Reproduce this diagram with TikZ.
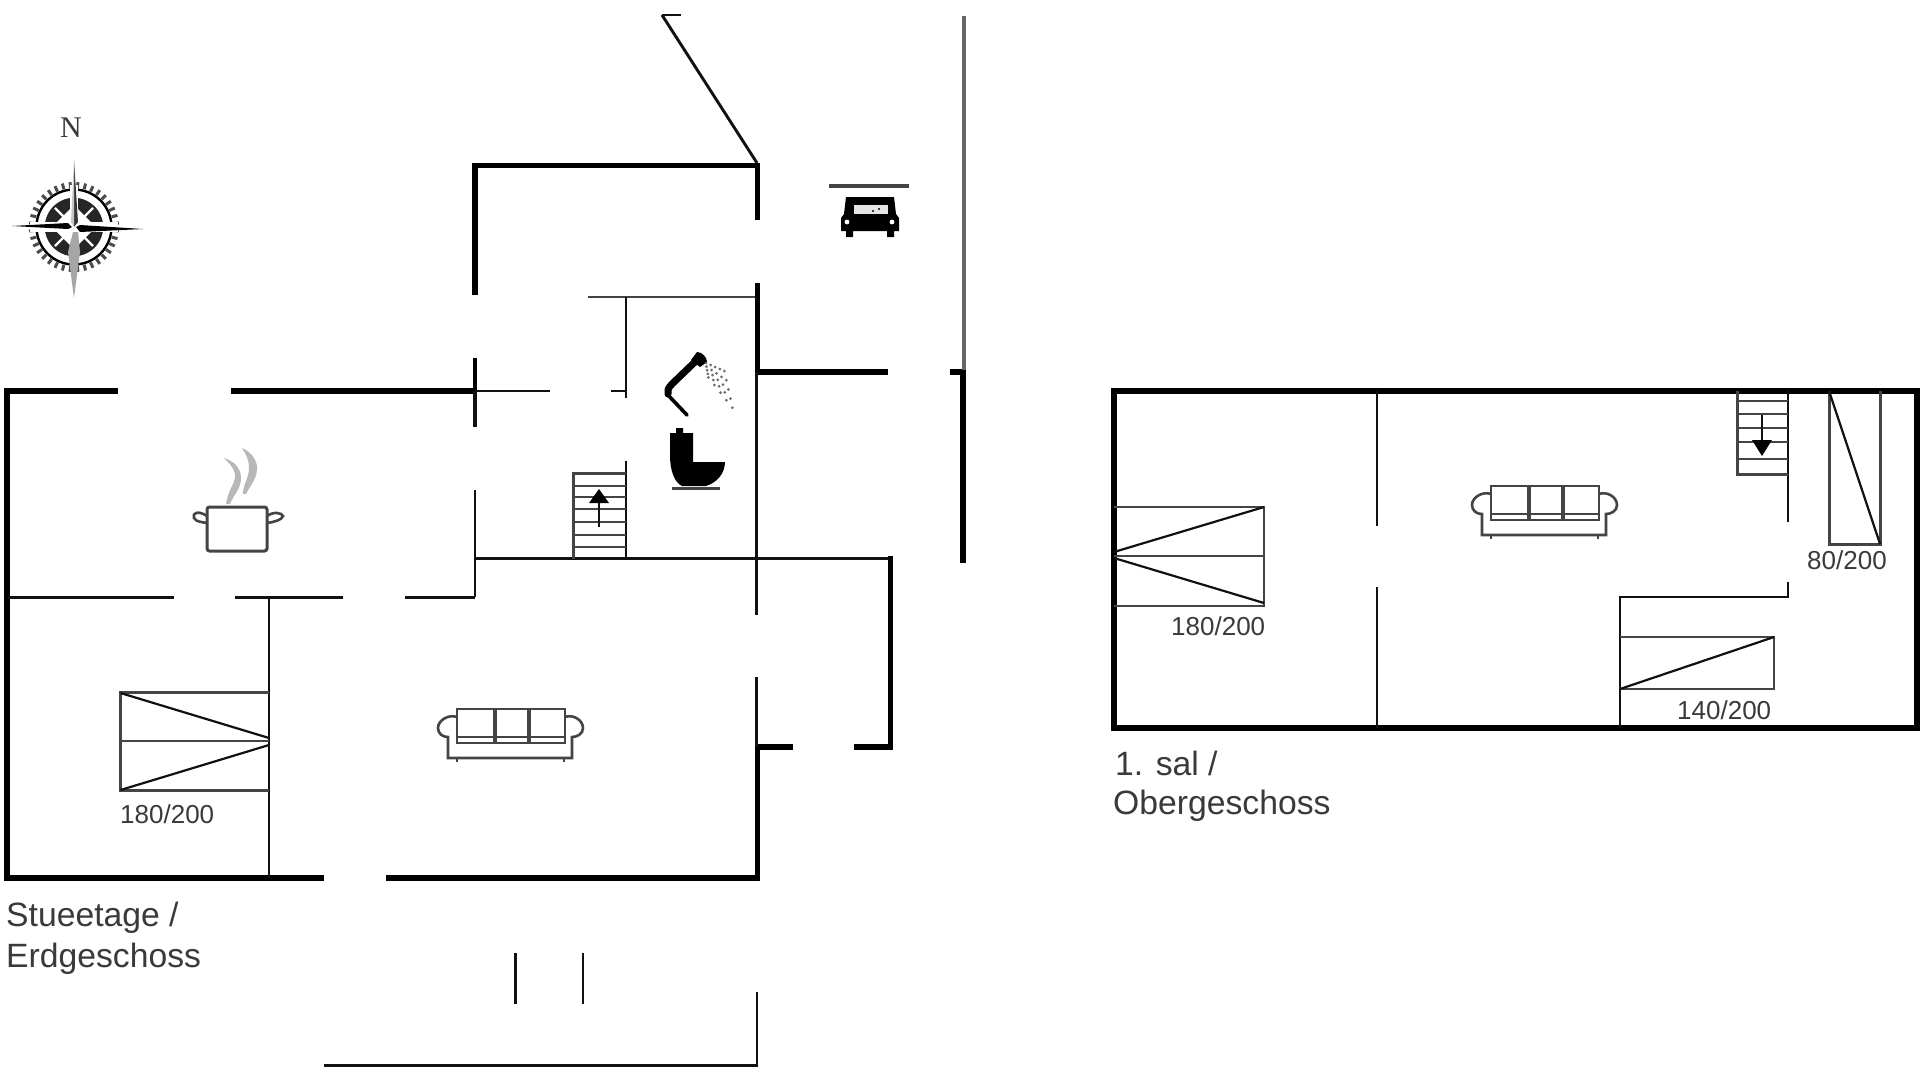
\documentclass[tikz,border=0pt]{standalone}
\usepackage{fontspec}
\setmainfont{Liberation Sans}
\newfontfamily\serifn{Liberation Serif}
\definecolor{ink}{HTML}{111111}
\definecolor{soft}{HTML}{444444}
\definecolor{txt}{HTML}{3A3A3A}
\tikzset{
  thick wall/.style={draw=black,line width=5.8pt,line cap=butt,line join=miter},
  thin wall/.style={draw=ink,line width=2.9pt,line cap=butt},
  grey line/.style={draw=soft,line width=3pt},
  bed line/.style={draw=soft,line width=2.8pt},
  bed diag/.style={draw=ink,line width=2.2pt},
  step line/.style={draw=soft,line width=2pt},
  small label/.style={anchor=base west,inner sep=0pt,text=txt,font=\fontsize{26}{26}\selectfont},
  floor label/.style={anchor=base west,inner sep=0pt,text=txt,font=\fontsize{33.7}{34}\selectfont},
  sofa line/.style={draw=soft,line width=2.6pt},
}
\newcommand{\drawsofa}{%
  \draw[sofa line] (457,709) rectangle (565,743);
  \draw[sofa line,line width=3.2pt] (495,709) -- (495,743) (529,709) -- (529,743);
  \draw[sofa line] (457,737) -- (565,737);
  \draw[sofa line] (457,717) .. controls (449,714) and (438,720) .. (438,728) .. controls (438,734) and (443,737) .. (448,737) -- (448,758) -- (572,758) -- (572,737) .. controls (577,737) and (583,734) .. (583,728) .. controls (583,720) and (573,714) .. (565,717);
  \draw[sofa line] (457,758) -- (457,762) (564,758) -- (564,762);
}
\begin{document}
\begin{tikzpicture}[x=1pt,y=-1pt]
\useasboundingbox (0,0) rectangle (1920,1080);
\fill[white] (0,0) rectangle (1920,1080);

% ---- ground floor: thick walls
\draw[thick wall] (118,391) -- (7,391) -- (7,878) -- (324,878);
\draw[thick wall] (231,391) -- (475,391);
\draw[thick wall] (386,878) -- (757.5,878) -- (757.5,747) -- (793,747);
\draw[thick wall] (854,747) -- (890.5,747) -- (890.5,556);
\draw[thick wall] (475,295) -- (475,165.5) -- (757.5,165.5) -- (757.5,220);
\draw[thick wall] (757.5,283) -- (757.5,372) -- (888,372);
\draw[thick wall] (950,372) -- (963,372) -- (963,563);
\draw[thick wall,line width=4.6pt] (475,358) -- (475,391);
% ---- ground floor: thin walls
\draw[thin wall,line width=3.6pt] (475,391) -- (475,427);
\draw[thin wall] (475,490) -- (475,597);
\draw[thin wall] (475,558.5) -- (889,558.5);
\draw[thin wall] (756.5,372) -- (756.5,615);
\draw[thin wall] (756.5,677) -- (756.5,747);
\draw[thin wall,draw=soft] (588,297) -- (755,297);
\draw[thin wall] (626,297) -- (626,398);
\draw[thin wall] (475,391) -- (550,391);
\draw[thin wall] (611,391) -- (626,391);
\draw[thin wall] (626,461) -- (626,559);
\draw[thin wall] (8,597.5) -- (174,597.5);
\draw[thin wall] (235,597.5) -- (343,597.5);
\draw[thin wall] (405,597.5) -- (475,597.5);
\draw[thin wall] (269,597) -- (269,878);
% outdoor lines
\draw[grey line,draw=black!60,line width=3.4pt] (964,16) -- (964,370);
\draw[thin wall] (662,15) -- (757,163);
\draw[thin wall] (662,15) -- (681,15);
\draw[thin wall] (515.5,953) -- (515.5,1004);
\draw[thin wall] (583,953) -- (583,1004);
\draw[thin wall] (324,1065.5) -- (757,1065.5) -- (757,992);

% ---- ground stairs
\draw[grey line] (573,559) -- (573,473) -- (626,473);
\foreach \yy in {486,497,509,522,535,547}{\draw[step line] (573,\yy) -- (626,\yy);}
\draw[ink,line width=2.2pt] (599,500) -- (599,527);
\fill[black] (599,489) -- (609,503) -- (589,503) -- cycle;

% ---- ground bed
\draw[bed line] (269,692.5) -- (120.5,692.5) -- (120.5,790.5) -- (269,790.5);
\draw[bed line] (120.5,741) -- (269,741);
\draw[bed diag] (120.5,693) -- (269,738);
\draw[bed diag] (120.5,790) -- (269,745);
\node[small label] (bedA) at (120,823) {180/200};

% ---- sofas
\drawsofa
\begin{scope}[shift={(1034,-223)}]\drawsofa\end{scope}

% ---- pot
\draw[soft,line width=3pt,rounded corners=2.5pt] (207,507) rectangle (267,551);
\draw[soft,line width=2.6pt] (207,516) .. controls (198,510) and (192,513) .. (194,518) .. controls (196,522) and (202,522) .. (207,523);
\draw[soft,line width=2.6pt] (267,516) .. controls (274,511) and (282,513) .. (283,516) .. controls (282,520) and (274,522) .. (267,523);
\fill[black!28] (226,504) .. controls (228,490) and (234,485) .. (235,478) .. controls (236,470) and (230,464) .. (224,458) .. controls (234,461) and (241,468) .. (241,478) .. controls (241,489) and (234,494) .. (230,504) -- cycle;
\fill[black!28] (243,494) .. controls (243,484) and (249,478) .. (249,468) .. controls (249,460) and (246,454) .. (242,448) .. controls (252,452) and (258,462) .. (257,470) .. controls (256,480) and (250,486) .. (246,494) -- cycle;

% ---- shower
\draw[black,line width=7pt,line cap=round,line join=round] (699,358) -- (672,384) .. controls (668,388) and (667,391) .. (668,394);
\fill[black] (697,352) .. controls (702,352) and (707,357) .. (707,362) -- (700,367) -- (691,360) -- cycle;
\draw[black,line width=3.6pt,line cap=round] (667,394) -- (687,415);
\foreach \i in {0,...,4}{\foreach \j in {0,...,4}{
  \fill[black!58] ({706+\i*4.6+\j*(0.6+0.35*\i)},{363+\i*2.0+\j*(3.6+1.4*\i)}) circle (1.5pt);}}

% ---- toilet
\fill[black] (670,433) -- (676,433) -- (676,428) -- (683,428) -- (683,433) -- (693,433) -- (693,462) -- (725,462) .. controls (725,474) and (716,483) .. (706,486) -- (682,486) .. controls (674,482) and (670,470) .. (670,455) -- cycle;
\draw[soft,line width=3pt] (672,488) -- (720,488);

% ---- car
\draw[soft,line width=3.4pt] (829,186) -- (909,186);
\fill[black] (846,197) -- (894,197) -- (896,214) -- (899,218) -- (899,231) -- (894,231) -- (894,237) -- (887,237) -- (887,231) -- (853,231) -- (853,237) -- (846,237) -- (846,231) -- (841,231) -- (841,218) -- (844,214) -- cycle;
\fill[black!10] (854,205) rectangle (888,213.5);
\fill[black] (873,211) circle (1.2pt) (879,209) circle (1.2pt);
\fill[white] (847,222) circle (2.4pt) (892,222) circle (2.4pt);

% ---- compass
\foreach \a in {5,15,...,355}{\draw[black!70,line width=3pt] ({74+39*cos(\a)},{227+39*sin(\a)}) -- ({74+45*cos(\a)},{227+45*sin(\a)});}
\draw[black,line width=2.4pt] (74,227) circle (37.5);
\fill[black!85] (74,227) circle (31);
\draw[white,line width=3.4pt] (74,227) circle (31);
\foreach \a in {45,135,225,315}{\draw[white,line width=2.2pt] ({74+8*cos(\a)},{227+8*sin(\a)}) -- ({74+27*cos(\a)},{227+27*sin(\a)});}
\fill[white] (70,185) -- (78,185) -- (78,269) -- (70,269) -- cycle;
\fill[white] (30,222) -- (118,222) -- (118,232) -- (30,232) -- cycle;
\fill[white] (74,205) -- (96,227) -- (74,249) -- (52,227) -- cycle;
\fill[black!78] (74,160) -- (78,222) -- (74,227) -- cycle;
\fill[black!22] (74,160) -- (71,222) -- (74,227) -- cycle;
\fill[black!35] (74,298) -- (68,252) -- (73,232) -- (78,232) -- (80,252) -- cycle;
\fill[black] (12,226) -- (68,223) -- (72,227) -- (68,229) -- cycle;
\fill[black] (143,229) -- (80,225) -- (76,227) -- (80,232) -- cycle;
\node[anchor=base,inner sep=0pt,text=txt,font=\serifn\fontsize{30}{30}\selectfont] (north) at (71,137) {N};

% ---- floor labels
\node[floor label] (ground1) at (6,926) {Stueetage /};
\node[floor label] (ground2) at (6,967) {Erdgeschoss};

% ---- upper floor
\draw[thick wall] (1920,391) -- (1114,391) -- (1114,728) -- (1920,728);
\draw[thick wall] (1917,391) -- (1917,728);
\draw[thin wall] (1377,391) -- (1377,526);
\draw[thin wall] (1377,587) -- (1377,728);
\draw[thin wall] (1788,391) -- (1788,522);
\draw[thin wall] (1788,582) -- (1788,597) -- (1620,597) -- (1620,728);
% upper stairs
\draw[grey line] (1737,391) -- (1737,474) -- (1788,474);
\foreach \yy in {401,414,428,442,459}{\draw[step line] (1737,\yy) -- (1788,\yy);}
\draw[ink,line width=2.2pt] (1762,415) -- (1762,442);
\fill[black] (1762,456) -- (1772,440) -- (1752,440) -- cycle;
% bed 80/200
\draw[grey line] (1829,391) -- (1829,544) -- (1880,544) -- (1880,391);
\draw[bed diag] (1829,391) -- (1880,544);
\node[small label] (bedB) at (1807,569) {80/200};
% bed 180/200 upper
\draw[bed line] (1114,507) -- (1264,507) -- (1264,606) -- (1114,606);
\draw[bed line] (1114,556) -- (1264,556);
\draw[bed diag] (1264,507) -- (1114,552);
\draw[bed diag] (1264,603) -- (1114,558);
\node[small label] (bedC) at (1171,635) {180/200};
% bed 140/200
\draw[bed line] (1620,637) -- (1774,637) -- (1774,689) -- (1620,689);
\draw[bed diag] (1620,689) -- (1774,637);
\node[small label] (bedD) at (1677,719) {140/200};
\node[floor label] (upper1) at (1115,775) {1. sal /};
\node[floor label] (upper2) at (1113,814) {Obergeschoss};
\end{tikzpicture}
\end{document}
